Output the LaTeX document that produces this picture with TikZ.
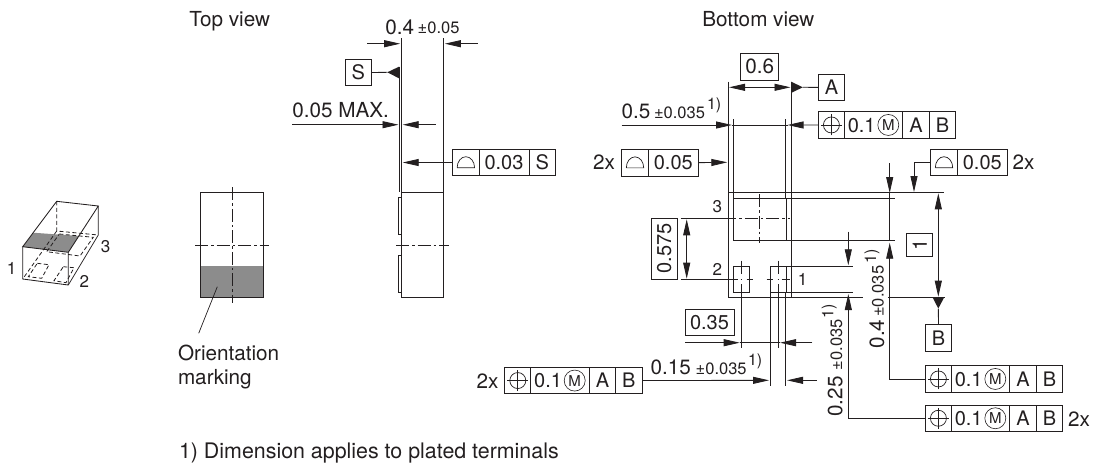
\documentclass[tikz,border=0pt]{standalone}
\usepackage{fontspec}
\setmainfont{TeX Gyre Heros}
\usetikzlibrary{arrows.meta}
\definecolor{ink}{HTML}{231F20}
\definecolor{band}{HTML}{8C8C8C}
\tikzset{
  tip/.style={-{Triangle[length=16pt,width=7pt]}},
  tips/.style={{Triangle[length=16pt,width=7pt]}-{Triangle[length=16pt,width=7pt]}},
  dashline/.style={line width=0.8pt,dash pattern=on 4pt off 2.5pt},
  center line/.style={line width=0.8pt,dash pattern=on 13pt off 3pt on 2.5pt off 3pt},
  txt/.style={inner sep=0pt,outer sep=0pt,anchor=base west,text=ink,font=\fontsize{20.7}{23}\selectfont},
  big/.style={txt,font=\fontsize{20.7}{23}\selectfont},
  small/.style={txt,font=\fontsize{16.5}{18}\selectfont},
  note/.style={txt,font=\fontsize{16}{18}\selectfont},
  label/.style={txt,font=\fontsize{17}{19}\selectfont,anchor=center},
  cell/.style={draw=ink,line width=0.85pt,inner sep=0pt,outer sep=0pt,text=ink,font=\fontsize{20}{22}\selectfont},
}
% cell: name, x1, y1, x2, y2, text
\newcommand{\cellbox}[6]{%
  \pgfmathsetmacro\cx{(#2+#4)/2}\pgfmathsetmacro\cy{(#3+#5)/2}%
  \pgfmathsetmacro\cw{#4-#2}\pgfmathsetmacro\ch{#5-#3}%
  \node[cell,minimum width=\cw pt,minimum height=\ch pt] (#1) at (\cx,\cy) {#6};}
% profile symbol centred in a cell
\newcommand{\profsym}[1]{%
  \draw[line width=0.7pt] ([xshift=-8.7pt,yshift=-5.2pt]#1.center) -- ([xshift=8.7pt,yshift=-5.2pt]#1.center)
    arc[start angle=0,end angle=180,x radius=8.7pt,y radius=11pt];}
% position frame: name, left x, top y
\newcommand{\posframe}[3]{%
  \pgfmathsetmacro\pa{#2+26.2}\pgfmathsetmacro\pb{#2+84.6}\pgfmathsetmacro\pc{#2+111}\pgfmathsetmacro\pd{#2+137.4}\pgfmathsetmacro\pe{#3+26.5}%
  \cellbox{#1a}{#2}{#3}{\pa}{\pe}{}%
  \cellbox{#1b}{\pa}{#3}{\pb}{\pe}{}%
  \cellbox{#1c}{\pb}{#3}{\pc}{\pe}{A}%
  \cellbox{#1d}{\pc}{#3}{\pd}{\pe}{B}%
  \draw[line width=0.7pt] (#1a.center) circle[radius=8pt];
  \draw[line width=0.7pt] ([xshift=-10.5pt]#1a.center) -- ([xshift=10.5pt]#1a.center);
  \draw[line width=0.7pt] ([yshift=-10.5pt]#1a.center) -- ([yshift=10.5pt]#1a.center);
  \node[txt,anchor=base,font=\fontsize{20}{22}\selectfont] at ([xshift=-12pt,yshift=-7.2pt]#1b.center) {0.1};
  \node[draw=ink,circle,line width=0.6pt,inner sep=0pt,minimum size=21pt,text=ink,font=\fontsize{15}{16}\selectfont] at ([xshift=14.6pt]#1b.center) {M};
}
\begin{document}
\begin{tikzpicture}[x=1pt,y=-1pt,line width=0.85pt,color=ink]
\useasboundingbox (0,0) rectangle (1099,467);
% ---- titles
\node[txt] (ttop) at (189.3,26.3) {Top view};
\node[txt] (tbot) at (702.3,26.5) {Bottom view};
% ---- 3D view
\fill[band,draw=none] (22.7,246.7) -- (68.3,252.3) -- (78.9,236) -- (33.2,232.7) -- cycle;
\draw (22.7,246.7) -- (68.3,252.3) -- (98.3,206) -- (56.7,201.3) -- cycle;
\draw (22.7,246.7) -- (22.7,279) -- (68.3,285) -- (68.3,252.3);
\draw[line width=0.7pt] (98.3,206) -- (98.3,235) -- (68.3,285);
\draw[dashline] (56.7,201.3) -- (56.7,231) -- (98.3,235);
\draw[dashline] (56.7,231) -- (22.7,279);
\draw[dashline] (59.3,234) -- (93.3,237.3) -- (80,256) -- (46.7,251.7) -- cycle;
\draw[dashline] (37.3,263.3) -- (49,264.7) -- (41.7,278.3) -- (28.3,276.7) -- cycle;
\draw[dashline] (63.3,266.7) -- (74,267.7) -- (66,282.7) -- (54,280.7) -- cycle;
\node[label] (n1) at (11.5,268) {1};
\node[label] (n2) at (84.3,281) {2};
\node[label] (n3) at (105.7,247) {3};
% ---- top view
\fill[band,draw=none] (200.3,266) rectangle (263.7,297.7);
\draw (200.3,192.3) rectangle (263.7,297.7);
\draw[center line] (232,187.3) -- (232,303.3);
\draw[center line] (195,245) -- (269,245);
\draw[line width=0.7pt] (217.3,286.7) -- (198.7,333.3);
\node[txt] (orient) at (178,360) {Orientation};
\node[txt] (mark) at (178,384) {marking};
% ---- side view
\draw (401.7,192.3) rectangle (443.3,297.3);
\draw (401.7,38) -- (401.7,192.3);
\draw (443.3,38) -- (443.3,192.3);
\draw (399,66.7) -- (399,192.3);
\draw (401.7,197.3) -| (398.7,234.3) -- (401.7,234.3);
\draw (401.7,255) -| (398.7,292.3) -- (401.7,292.3);
\draw[center line] (396,245) -- (449,245);
\coordinate (w1) at (401.7,43.7); \coordinate (w2) at (443.3,43.7);
\coordinate (w1o) at (367.3,43.7); \coordinate (w2o) at (477.7,43.7);
\draw[tip] (w1o) -- ([xshift=-1.5pt]w1);
\draw[tip] (w2o) -- ([xshift=1.5pt]w2);
\node[big] (d04) at (385.3,34) {0.4};
\node[small] (t04) at (417.7,33) {±0.05};
\cellbox{boxS}{345}{59.3}{371.7}{85.7}{S}
\fill[ink] (387.3,72.3) -- (399,66.7) -- (399,78.3) -- cycle;
\draw (boxS.east) -- (387.3,72.3);
\node[big] (max) at (292.3,117.5) {0.05 MAX.};
\coordinate (m1) at (292.3,124.7); \coordinate (m1t) at (398.5,124.7);
\coordinate (m2) at (435.7,124.7); \coordinate (m2t) at (402.7,124.7);
\draw[tip] (m1) -- (m1t);
\draw[tip] (m2) -- (m2t);
\cellbox{s1}{452.7}{149.3}{479}{175.7}{}
\cellbox{s2}{479}{149.3}{529}{175.7}{0.03}
\cellbox{s3}{529}{149.3}{555.7}{175.7}{S}
\profsym{s1}
\coordinate (sl) at (402.7,162.5);
\draw[tip] (s1.west) -- (sl);
% ---- bottom view body
\draw (728.3,192.7) rectangle (791.7,297.7);
\draw (733.3,198) rectangle (786.7,240);
\draw (733.3,266) rectangle (749.3,292.7);
\draw (770.3,266) rectangle (786.7,292.7);
% extension lines
\draw (728,81.7) -- (728,192.7);
\draw (791.3,81.7) -- (791.3,192.7);
\draw (733.3,119.3) -- (733.3,198);
\draw (785.7,119.3) -- (785.7,198);
\draw (791.7,192.7) -- (944,192.7);
\draw (786.7,198) -- (895,198);
\draw (786.7,240) -- (895,240);
\draw (786.7,266) -- (853.3,266);
\draw (770.3,292.7) -- (853.3,292.7);
\draw (791.7,297.7) -- (863,297.7);
\draw (888,297.7) -- (945,297.7);
\draw (770.3,292.7) -- (770.3,385.7);
\draw (785.7,292.7) -- (785.7,385.7);
% centre lines
\draw (680.7,218.7) -- (733.3,218.7);
\draw[center line,dash phase=10pt] (733.3,218.7) -- (790,218.7);
\draw[center line] (759.7,194) -- (759.7,243.3);
\draw (680.7,279) -- (738,279);
\draw (740.5,279) -- (742,279);
\draw (746.7,279) -- (753,279);
\draw (766.7,279) -- (773,279);
\draw (777.5,279) -- (779,279);
\draw (781.7,279) -- (790,279);
\draw (741.3,260.7) -- (741.3,274);
\draw (741.3,284) -- (741.3,347.7);
\draw (778.3,260.7) -- (778.3,274);
\draw (778.3,284) -- (778.3,347.7);
\node[label] (p3) at (717.3,206.7) {3};
\node[label] (p2) at (717.3,269) {2};
\node[label] (p1) at (802.7,279) {1};
% 0.6 + A
\cellbox{box06}{740.7}{53.3}{778.7}{80}{\fontsize{20.7}{22}\selectfont 0.6}
\coordinate (a1) at (729,87.3); \coordinate (a2) at (790.5,87.3);
\draw[tips] (a1) -- (a2);
\cellbox{boxA}{818.3}{74}{844.7}{100.7}{A}
\fill[ink] (802.7,87.3) -- (791.3,81.7) -- (791.3,92.9) -- cycle;
\draw (boxA.west) -- (802.7,87.3);
% 0.5
\node[big] (d05) at (621.7,118.3) {0.5};
\node[small] (t05) at (654,118.3) {±0.035};
\node[note] (n05) at (707,109) {1)};
\posframe{fa}{818.3}{111.7}
\coordinate (l05) at (621.7,125); \coordinate (l05t) at (732,125); \coordinate (r05t) at (787.5,125);
\draw[tip] (l05) -- (l05t);
\draw (l05t) -- (r05t);
\draw[tip] (faa.west) -- (r05t);
% 2x 0.05
\node[txt] (x2a) at (593,169.5) {2x};
\cellbox{q1}{621.7}{149.3}{648.3}{176}{}
\cellbox{q2}{648.3}{149.3}{698.3}{176}{0.05}
\profsym{q1}
\coordinate (ql) at (727.3,162.3);
\draw[tip] (q2.east) -- (ql);
% 0.575
\cellbox{box575}{651}{218.3}{677.3}{279}{\rotatebox{90}{0.575}}
\coordinate (v1) at (686.7,219.3); \coordinate (v2) at (686.7,278.7);
\draw[tips] (v1) -- (v2);
% 0.35
\cellbox{box035}{685}{309}{734}{335.3}{0.35}
\coordinate (c1) at (685,342.7); \coordinate (c1t) at (739.7,342.7);
\coordinate (c2) at (812.3,342.7); \coordinate (c2t) at (780,342.7);
\draw[tip] (c1) -- (c1t);
\draw[tip] (c2) -- (c2t);
\draw (c1t) -- (c2t);
% 0.15
\node[txt] (x2b) at (476.7,388) {2x};
\posframe{fb}{504.7}{367.3}
\node[big] (d015) at (650.7,374) {0.15};
\node[small] (t015) at (695.7,374) {±0.035};
\node[note] (n015) at (748,365.7) {1)};
\coordinate (g1t) at (769,380.3); \coordinate (g2t) at (787,380.3); \coordinate (g2) at (816.7,380.3);
\draw[tip] (fbd.east) -- (g1t);
\draw[tip] (g2) -- (g2t);
% dimension 0.25
\coordinate (h0) at (848.3,231.7); \coordinate (h0t) at (848.3,265.3); \coordinate (h1t) at (848.3,294);
\posframe{fc}{925.3}{365.7}
\posframe{fd}{925.3}{405}
\draw[tip] (h0) -- (h0t);
\draw[tip] (fda.west) -| (h1t);
\node[big,rotate=90] (d025) at (842.3,416.7) {0.25};
\node[small,rotate=90] (t025) at (842,370) {±0.035};
\node[note,rotate=90] (n025) at (833.3,318.3) {1)};
\node[txt] (x2c) at (1068,426) {2x};
% dimension 0.4
\coordinate (k0) at (889.7,163.3); \coordinate (k0t) at (889.7,193); \coordinate (k1t) at (889.7,242.7);
\draw[tip] (k0) -- (k0t);
\draw (k0t) -- (889.7,240);
\draw[tip] (fca.west) -| (k1t);
\node[big,rotate=90] (d040) at (884,348.3) {0.4};
\node[small,rotate=90] (t040) at (883.5,316.7) {±0.035};
\node[note,rotate=90] (n040) at (876,263.3) {1)};
% 0.05 2x right
\cellbox{r1}{930.7}{149.3}{957.3}{175.7}{}
\cellbox{r2}{957.3}{149.3}{1007.3}{175.7}{0.05}
\profsym{r1}
\node[txt] (x2d) at (1012.7,169.5) {2x};
\coordinate (rt) at (914,192);
\draw[tip] (r1.west) -| (rt);
% dim 1 + B
\coordinate (e1) at (938.3,193.3); \coordinate (e2) at (938.3,296.7);
\draw[tips] (e1) -- (e2);
\cellbox{box1}{906.7}{233.3}{932.7}{256.7}{\rotatebox{90}{1}}
\cellbox{boxB}{925.3}{324.7}{951.7}{351.3}{B}
\fill[ink] (938.3,308.5) -- (932.7,297.7) -- (944,297.7) -- cycle;
\draw (boxB.north) -- (938.3,308.5);
% footnote
\node[txt,font=\fontsize{21.4}{24}\selectfont] (foot) at (179,458) {1) Dimension applies to plated terminals};
\end{tikzpicture}
\end{document}
